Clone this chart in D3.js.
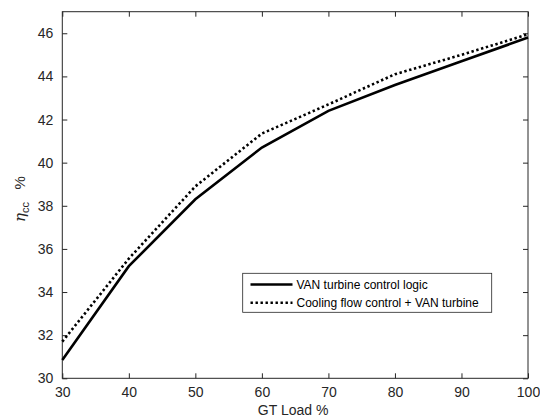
<!DOCTYPE html>
<html><head><meta charset="utf-8">
<script src="https://cdn.jsdelivr.net/npm/d3@7"></script>
<style>body{margin:0;background:#fff}svg{display:block}</style>
</head><body>
<script>
const loads = [30, 40, 50, 60, 70, 80, 90, 100];
const vanTurbine = [30.85, 35.2, 38.3, 40.7, 42.4, 43.6, 44.7, 45.8];
const coolingVan = [31.7, 35.55, 38.9, 41.35, 42.7, 44.1, 45.0, 45.95];
const xTicks = [30, 40, 50, 60, 70, 80, 90, 100];
const yTicks = [30, 32, 34, 36, 38, 40, 42, 44, 46];
const seriesNames = ["VAN turbine control logic", "Cooling flow control + VAN turbine"];

const W = 540, H = 417;
const m = {left: 62.3, right: 528, top: 11.7, bottom: 378.3};
const svg = d3.select("body").append("svg").attr("width", W).attr("height", H);
const x = d3.scaleLinear().domain([30, 100]).range([m.left, m.right]);
const y = d3.scaleLinear().domain([30, 47]).range([m.bottom, m.top]);
const axisColor = "#262626";
const font = "'Liberation Sans', Arial, sans-serif";

// box
svg.append("rect").attr("x", m.left).attr("y", m.top)
  .attr("width", m.right - m.left).attr("height", m.bottom - m.top)
  .attr("fill", "none").attr("stroke", axisColor).attr("stroke-width", 1);

const styleAxis = g => {
  g.select(".domain").remove();
  g.selectAll(".tick line").attr("stroke", axisColor);
  g.selectAll(".tick text").attr("fill", axisColor).style("font-family", font).style("font-size", "14px");
};
svg.append("g").attr("transform", `translate(0,${m.bottom})`)
  .call(d3.axisBottom(x).tickValues(xTicks).tickSizeInner(-5).tickSizeOuter(0).tickPadding(9).tickFormat(d3.format("d")))
  .call(styleAxis);
svg.append("g").attr("transform", `translate(0,${m.top})`)
  .call(d3.axisTop(x).tickValues(xTicks).tickSizeInner(-5).tickSizeOuter(0).tickFormat(""))
  .call(styleAxis);
svg.append("g").attr("transform", `translate(${m.left},0)`)
  .call(d3.axisLeft(y).tickValues(yTicks).tickSizeInner(-5).tickSizeOuter(0).tickPadding(9).tickFormat(d3.format("d")))
  .call(styleAxis);
svg.append("g").attr("transform", `translate(${m.right},0)`)
  .call(d3.axisRight(y).tickValues(yTicks).tickSizeInner(-5).tickSizeOuter(0).tickFormat(""))
  .call(styleAxis);

// lines
const line = d3.line().x((d, i) => x(loads[i])).y(d => y(d));
svg.append("path").datum(vanTurbine).attr("d", line)
  .attr("fill", "none").attr("stroke", "#000").attr("stroke-width", 2.6);
svg.append("path").datum(coolingVan).attr("d", line)
  .attr("fill", "none").attr("stroke", "#000").attr("stroke-width", 2.6)
  .attr("stroke-dasharray", "2.4,2.6");

// axis labels
svg.append("text").attr("x", (m.left + m.right) / 2 - 2).attr("y", 414.5)
  .attr("text-anchor", "middle").attr("fill", axisColor)
  .style("font-family", font).style("font-size", "14px").text("GT Load %");
const yl = svg.append("text").attr("transform", "translate(25,199) rotate(-90)")
  .attr("text-anchor", "middle").attr("fill", axisColor)
  .style("font-family", font).style("font-size", "15px");
yl.append("tspan").style("font-style", "italic").style("font-family", "'DejaVu Serif', serif").text("η");
yl.append("tspan").attr("dy", 4).style("font-size", "11px").text("cc");
yl.append("tspan").attr("dy", -4).text("\u00a0\u00a0\u00a0%");

// legend
const lg = svg.append("g");
lg.append("rect").attr("x", 242.7).attr("y", 273.3).attr("width", 249).attr("height", 39)
  .attr("fill", "#fff").attr("stroke", "#262626").attr("stroke-width", 0.8);
const rowsY = [284.5, 302.7];
seriesNames.forEach((n, i) => {
  lg.append("line").attr("x1", 250.5).attr("x2", 292.5).attr("y1", rowsY[i]).attr("y2", rowsY[i])
    .attr("stroke", "#000").attr("stroke-width", 2.6)
    .attr("stroke-dasharray", i === 1 ? "2.4,2.6" : null);
  lg.append("text").attr("x", 296.5).attr("y", rowsY[i] + 4.2).attr("fill", "#000")
    .style("font-family", font).style("font-size", "12px").text(n);
});
</script>
</body></html>
